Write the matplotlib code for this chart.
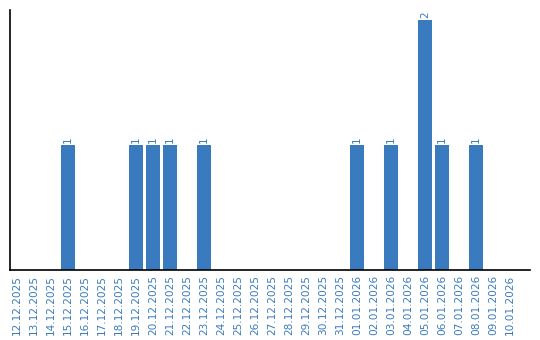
import pandas as pd
import matplotlib.pyplot as plt
import numpy as np

# Daten
dates = pd.date_range("2025-12-12", "2026-01-10", freq="D")
labels = [d.strftime("%d.%m.%Y") for d in dates]
counts_by_day = {
    "15.12.2025": 1, "19.12.2025": 1, "20.12.2025": 1, "21.12.2025": 1,
    "23.12.2025": 1, "01.01.2026": 1, "03.01.2026": 1, "05.01.2026": 2,
    "06.01.2026": 1, "08.01.2026": 1,
}
values = [counts_by_day.get(l, 0) for l in labels]

blue = "#3a7bbf"

fig = plt.figure(figsize=(5.4, 3.4), dpi=100)
ax = fig.add_axes([10 / 540, 70 / 340, 520 / 540, 260 / 340])

x = np.arange(len(labels))
ax.bar(x, values, width=0.82, color=blue)
for xi, v in zip(x, values):
    if v > 0:
        ax.text(xi, v + 0.02, str(v), rotation=90, ha="center", va="bottom",
                fontsize=7.5, color=blue)

ax.set_xlim(-0.41, 30.18)
ax.set_ylim(0, 2.08)
ax.set_xticks(x)
ax.set_xticklabels(labels, rotation=90, fontsize=7.6, color=blue)
ax.tick_params(axis="x", length=0, pad=3.5)
ax.set_yticks([])
ax.spines["top"].set_visible(False)
ax.spines["right"].set_visible(False)
ax.spines["left"].set_linewidth(1.2)
ax.spines["bottom"].set_linewidth(1.2)

fig.savefig("out.png", dpi=100)
